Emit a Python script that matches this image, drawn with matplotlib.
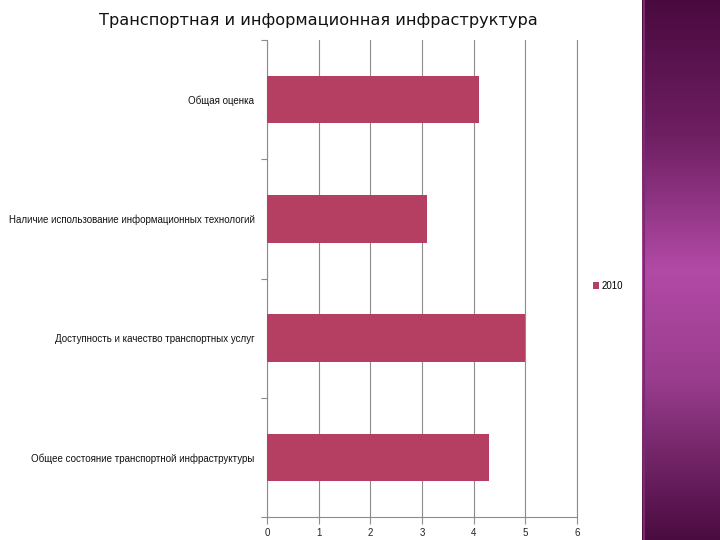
import numpy as np
import matplotlib
matplotlib.use("Agg")
import matplotlib.pyplot as plt
from matplotlib.colors import LinearSegmentedColormap

# data
categories = ["Общее состояние транспортной инфраструктуры",
              "Доступность и качество транспортных услуг",
              "Наличие использование информационных технологий",
              "Общая оценка"]
values_2010 = [4.3, 5.0, 3.1, 4.1]
series_name = "2010"
title = "Транспортная и информационная инфраструктура"
xticks = [0, 1, 2, 3, 4, 5, 6]

bar_color = "#b43f63"
grid_color = "#8c8c8c"

plt.rcParams["font.family"] = ["Liberation Sans", "DejaVu Sans"]

fig = plt.figure(figsize=(7.2, 5.4), dpi=100)

# decorative purple panel on the right
panel = fig.add_axes([642 / 720, 0, 1 - 642 / 720, 1])
cmap = LinearSegmentedColormap.from_list(
    "purp", [(0.0, "#4a0a3f"), (0.25, "#6e1f62"), (0.5, "#b24aa6"),
             (0.7, "#9a3d8e"), (1.0, "#4a0c40")])
grad = np.linspace(0, 1, 256).reshape(-1, 1)
panel.imshow(grad, aspect="auto", cmap=cmap, extent=[0, 1, 1, 0])
panel.axvline(0.02, color="#7a2a70", lw=1.5)
panel.set_axis_off()

ax = fig.add_axes([267 / 720, 1 - 517 / 540, 310 / 720, 477 / 540])
y = np.arange(len(categories))
ax.barh(y, values_2010, height=0.4, color=bar_color, label=series_name, zorder=3)

ax.set_xlim(0, 6)
ax.set_ylim(-0.5, len(categories) - 0.5)
ax.set_xticks(xticks)
ax.set_xticklabels([str(t) for t in xticks], fontsize=7, color="#222222")
ax.set_yticks(y)
ax.set_yticklabels(categories, fontsize=7, color="#111111")
ax.set_yticks(np.arange(-0.5, len(categories), 1.0), minor=True)
ax.tick_params(axis="y", which="major", length=0, pad=9)
ax.tick_params(axis="y", which="minor", length=4, color=grid_color, width=0.8)
ax.tick_params(axis="x", length=5, color=grid_color, width=0.8, pad=3)

ax.grid(axis="x", color=grid_color, lw=0.8, zorder=0)
ax.axvline(xticks[-1], color=grid_color, lw=0.8, clip_on=False, zorder=0)
for s in ["top", "right"]:
    ax.spines[s].set_visible(False)
for s in ["left", "bottom"]:
    ax.spines[s].set_color(grid_color)
    ax.spines[s].set_linewidth(0.8)

fig.text(318 / 720, 1 - 20 / 540, title, fontsize=11.6, ha="center", va="center",
         color="#111111", family=["DejaVu Sans"])

fig.legend(loc="center left", bbox_to_anchor=(593 / 720, 1 - 286 / 540),
           frameon=False, fontsize=7, handlelength=0.6, handleheight=0.6,
           handletextpad=0.3, borderpad=0, borderaxespad=0)

fig.savefig("out.png", dpi=100)
